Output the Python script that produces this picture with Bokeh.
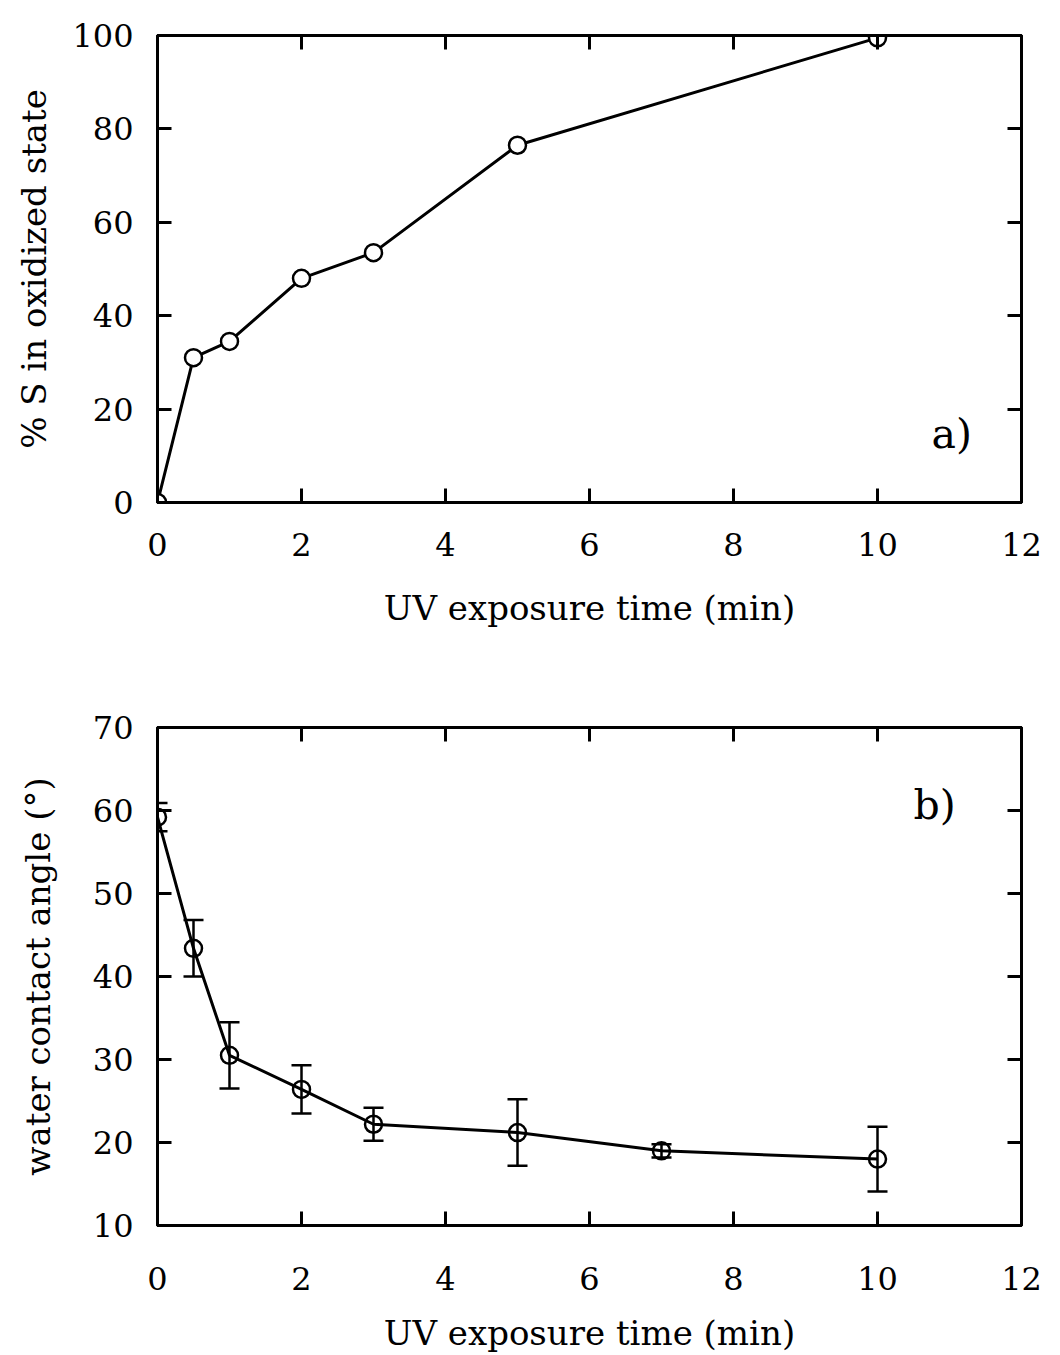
from bokeh.plotting import figure
from bokeh.layouts import column
from bokeh.models import LinearAxis, FixedTicker, Range1d, ColumnDataSource, Whisker, Label, TeeHead
from bokeh.embed import file_html
from bokeh.resources import INLINE

# Panel a data
time_a = [0, 0.5, 1, 2, 3, 5, 10]
oxidized_pct = [0, 31, 34.5, 48, 53.5, 76.5, 99.5]

# Panel b data
time_b = [0, 0.5, 1, 2, 3, 5, 7, 10]
contact_angle = [59.2, 43.4, 30.5, 26.4, 22.2, 21.2, 19.0, 18.0]
angle_err = [1.7, 3.4, 4.0, 2.9, 2.0, 4.0, 0.8, 3.9]

x_ticks = [0, 2, 4, 6, 8, 10, 12]
y_ticks_a = [0, 20, 40, 60, 80, 100]
y_ticks_b = [10, 20, 30, 40, 50, 60, 70]

FONT = "DejaVu Serif"
TICK_FS = "32px"
LABEL_FS = "34px"
LW = 3


def style_axis(ax, ticks, show_labels=True):
    ax.ticker = FixedTicker(ticks=ticks)
    ax.major_tick_in = 14
    ax.major_tick_out = 0
    ax.minor_tick_line_color = None
    ax.major_tick_line_width = LW
    ax.major_tick_line_color = "black"
    ax.axis_line_width = LW
    ax.axis_line_color = "black"
    ax.major_label_text_font = FONT
    ax.major_label_text_font_size = TICK_FS
    ax.major_label_text_color = "black"
    ax.axis_label_text_font = FONT
    ax.axis_label_text_font_size = LABEL_FS
    ax.axis_label_text_font_style = "normal"
    ax.axis_label_text_color = "black"
    if not show_labels:
        ax.major_label_text_font_size = "0px"
        ax.major_label_text_color = None


def make_fig(width, height, yr, yticks, ylabel, bl, bt, bb, br, xstand, xlstand, ylstand):
    p = figure(width=width, height=height, x_range=Range1d(0, 12), y_range=Range1d(*yr),
               output_backend="svg", toolbar_location=None,
               min_border_left=bl, min_border_top=bt, min_border_bottom=bb, min_border_right=br)
    p.xgrid.visible = False
    p.ygrid.visible = False
    p.outline_line_color = "black"
    p.outline_line_width = LW
    p.background_fill_color = "white"
    p.border_fill_color = "white"
    style_axis(p.xaxis[0], x_ticks)
    style_axis(p.yaxis[0], yticks)
    p.xaxis[0].axis_label = "UV exposure time (min)"
    p.yaxis[0].axis_label = ylabel
    p.xaxis[0].major_label_standoff = xstand
    p.yaxis[0].major_label_standoff = 24
    p.xaxis[0].axis_label_standoff = xlstand
    p.yaxis[0].axis_label_standoff = ylstand
    top = LinearAxis()
    style_axis(top, x_ticks, show_labels=False)
    right = LinearAxis()
    style_axis(right, yticks, show_labels=False)
    p.add_layout(top, "above")
    p.add_layout(right, "right")
    return p


pa = make_fig(1051, 660, (0, 100), y_ticks_a, "% S in oxidized state",
              154, 35, 158, 30, 30, 29, 15)
src_a = ColumnDataSource(dict(x=time_a, y=oxidized_pct))
pa.line("x", "y", source=src_a, line_color="black", line_width=LW)
pa.scatter("x", "y", source=src_a, size=17, marker="circle", line_color="black",
           line_width=2.5, fill_color="white")
pa.add_layout(Label(x=10.75, y=9.5, text="a)", text_font=FONT, text_font_size="41px",
                    text_color="black"))

pb = make_fig(1051, 695, (10, 70), y_ticks_b, "water contact angle (°)",
              157, 67, 130, 30, 41, 20, 32)
lower = [v - e for v, e in zip(contact_angle, angle_err)]
upper = [v + e for v, e in zip(contact_angle, angle_err)]
src_b = ColumnDataSource(dict(x=time_b, y=contact_angle, lo=lower, hi=upper))
w = Whisker(source=src_b, base="x", lower="lo", upper="hi", line_color="black", line_width=2.5)
w.upper_head = TeeHead(size=20, line_width=2.5, line_color="black")
w.lower_head = TeeHead(size=20, line_width=2.5, line_color="black")
pb.add_layout(w)
pb.line("x", "y", source=src_b, line_color="black", line_width=LW)
pb.scatter("x", "y", source=src_b, size=17, marker="circle", line_color="black",
           line_width=2.5, fill_color=None)
pb.add_layout(Label(x=10.5, y=57.8, text="b)", text_font=FONT, text_font_size="41px",
                    text_color="black"))

layout = column(pa, pb, spacing=0)
open("out.html", "w").write(file_html(layout, INLINE))
